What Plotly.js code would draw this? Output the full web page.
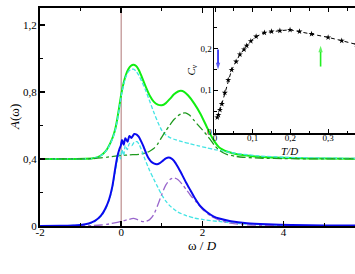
<!DOCTYPE html>
<html>
<head>
<meta charset="utf-8">
<script src="https://cdn.plot.ly/plotly-3.0.1.min.js"></script>
<style>
html,body{margin:0;padding:0;overflow:hidden;background:#fff;}
#wrap{position:relative;width:355px;height:274px;overflow:hidden;}
#main{position:absolute;left:0;top:0;}
#inset{position:absolute;left:160px;top:0;}
</style>
</head>
<body>
<div id="wrap"><div id="main"></div><div id="inset"></div></div>
<script>
// ---- main panel data: A(omega) vs omega/D ----
const wGreen = [-2,-1.2,-0.9,-0.7,-0.55,-0.44,-0.35,-0.27,-0.2,-0.15,-0.1,-0.04,0,0.06,0.12,0.18,0.24,0.3,0.36,0.43,0.5,0.6,0.7,0.8,0.9,1.0,1.1,1.2,1.3,1.4,1.47,1.55,1.65,1.8,1.95,2.1,2.2,2.3,2.4,2.5,2.6,2.8,3.0,3.3,3.7,4.2,5,6.2];
const aGreen = [0.400,0.400,0.401,0.404,0.414,0.432,0.458,0.494,0.535,0.575,0.635,0.725,0.785,0.855,0.905,0.938,0.956,0.962,0.955,0.932,0.893,0.832,0.778,0.742,0.724,0.720,0.733,0.758,0.785,0.802,0.806,0.800,0.778,0.730,0.670,0.595,0.545,0.503,0.472,0.455,0.444,0.431,0.423,0.415,0.409,0.405,0.402,0.401];

const wCyanUp = [-2,-1.2,-0.9,-0.7,-0.55,-0.44,-0.35,-0.27,-0.2,-0.15,-0.1,-0.04,0,0.06,0.12,0.18,0.24,0.3,0.36,0.43,0.5,0.6,0.7,0.8,0.9,1.0,1.1,1.2,1.35,1.5,1.7,1.9,2.1,2.3,2.5,2.7,3.0,3.4,4,5,6.2];
const aCyanUp = [0.400,0.400,0.401,0.404,0.413,0.430,0.455,0.490,0.530,0.568,0.625,0.715,0.775,0.845,0.893,0.922,0.935,0.935,0.925,0.900,0.865,0.810,0.745,0.680,0.620,0.570,0.543,0.527,0.513,0.503,0.490,0.478,0.467,0.456,0.447,0.438,0.428,0.418,0.410,0.405,0.402];

const wGreenDD = [-2,-1,-0.7,-0.5,-0.3,-0.1,0,0.2,0.45,0.6,0.7,0.8,0.9,1.0,1.1,1.2,1.3,1.4,1.5,1.58,1.68,1.8,1.9,2.0,2.1,2.2,2.3,2.4,2.5,2.6,2.8,3.0,3.5,4,5,6.2];
const aGreenDD = [0.400,0.400,0.402,0.406,0.412,0.418,0.420,0.424,0.428,0.436,0.446,0.462,0.490,0.530,0.568,0.603,0.635,0.658,0.672,0.675,0.662,0.628,0.600,0.573,0.545,0.513,0.480,0.455,0.438,0.427,0.416,0.410,0.404,0.402,0.400,0.400];

const wBlue = [-2,-1.5,-1.2,-1,-0.8,-0.65,-0.5,-0.4,-0.3,-0.22,-0.15,-0.1,-0.05,-0.01,0.02,0.06,0.1,0.155,0.2,0.25,0.32,0.38,0.43,0.5,0.55,0.62,0.67,0.74,0.8,0.88,0.95,1.03,1.1,1.17,1.24,1.3,1.4,1.5,1.6,1.7,1.8,1.95,2.1,2.27,2.44,2.7,3.1,3.6,4.2,5,6.2];
const aBlue = [0,0.001,0.003,0.006,0.015,0.030,0.062,0.100,0.158,0.235,0.340,0.410,0.455,0.480,0.513,0.485,0.524,0.502,0.537,0.525,0.549,0.545,0.533,0.500,0.473,0.430,0.405,0.383,0.373,0.368,0.375,0.390,0.403,0.408,0.402,0.388,0.350,0.305,0.258,0.215,0.172,0.118,0.085,0.058,0.043,0.028,0.016,0.010,0.006,0.003,0.002];

const wCyanLo = [-2,-1.5,-1.2,-1,-0.8,-0.65,-0.5,-0.4,-0.3,-0.22,-0.15,-0.1,-0.05,-0.02,0.02,0.06,0.1,0.15,0.2,0.26,0.32,0.39,0.45,0.52,0.59,0.7,0.8,0.9,1.0,1.1,1.2,1.3,1.4,1.6,1.8,2.0,2.4,2.8,3.2,4,5,6.2];
const aCyanLo = [0,0.001,0.003,0.005,0.013,0.027,0.057,0.094,0.150,0.225,0.320,0.385,0.430,0.400,0.455,0.420,0.480,0.455,0.492,0.480,0.500,0.503,0.482,0.440,0.395,0.330,0.280,0.232,0.185,0.148,0.120,0.100,0.083,0.062,0.048,0.039,0.027,0.017,0.010,0.004,0.002,0.001];

const wPurple = [-2,-1,-0.7,-0.5,-0.3,-0.1,0,0.15,0.3,0.4,0.5,0.58,0.7,0.8,0.9,1.0,1.1,1.2,1.3,1.4,1.5,1.6,1.7,1.86,2.0,2.2,2.4,2.7,3.0,3.5,4,5,6.2];
const aPurple = [0,0.001,0.003,0.006,0.012,0.022,0.028,0.037,0.045,0.038,0.028,0.026,0.038,0.068,0.125,0.190,0.245,0.277,0.286,0.276,0.250,0.218,0.185,0.140,0.100,0.060,0.036,0.017,0.008,0.004,0.002,0.001,0];

// main axis ticks
const xTickVals = [-2,0,2,4];
const xTickText = ['-2','0','2','4'];
const xMinorVals = [-1,1,3,5];
const yTickVals = [0,0.4,0.8,1.2];
const yTickText = ['0','0,4','0,8','1,2'];
const yMinorVals = [0.2,0.6,1.0];

// ---- inset data: C_v vs T/D ----
const tInset = [0.006,0.009,0.013,0.018,0.026,0.035,0.044,0.056,0.066,0.077,0.084,0.095,0.109,0.131,0.150,0.172,0.199,0.224,0.256,0.300,0.336,0.375];
const cvInset = [0.035,0.041,0.053,0.067,0.094,0.125,0.149,0.169,0.186,0.198,0.207,0.218,0.229,0.238,0.241,0.243,0.245,0.241,0.235,0.227,0.219,0.210];
const tTickVals = [0,0.1,0.2,0.3];
const tTickText = ['0','0,1','0,2','0,3'];
const tMinorVals = [0.05,0.15,0.25,0.35];
const cTickVals = [0,0.1,0.2];
const cTickText = ['0','0,1','0,2'];
const cMinorVals = [0.05,0.15,0.25];
// arrows (tail -> head) in inset
const blueArrowT = [0.008, 0.008];
const blueArrowC = [0.198, 0.150];
const greenArrowT = [0.280, 0.280];
const greenArrowC = [0.157, 0.207];

const FONT = 'Liberation Serif, Times New Roman, serif';

function line(x, y, color, width, dash) {
  return {x:x, y:y, type:'scatter', mode:'lines', hoverinfo:'skip',
    line:{color:color, width:width, dash:dash||'solid', shape:'spline', smoothing:0.7}};
}
function arrow(x, y, color) {
  return {x:x, y:y, type:'scatter', mode:'lines+markers', hoverinfo:'skip',
    line:{color:color, width:1.6},
    marker:{symbol:'arrow', angleref:'previous', size:[0, 7], color:color, line:{width:0}}};
}

const mainTraces = [
  line(wGreen, aGreen, '#11ee11', 2),
  line(wCyanUp, aCyanUp, '#44e4e4', 1.3, '4px,2px'),
  line(wGreenDD, aGreenDD, '#1f9a1f', 1.3, 'dashdot'),
  line(wCyanLo, aCyanLo, '#44e4e4', 1.3, '4px,2px'),
  line(wPurple, aPurple, '#9966cc', 1.3, 'dashdot'),
  line(wBlue, aBlue, '#0a0aee', 2)
];

const axCommon = {showline:true, linecolor:'#000', mirror:'ticks', ticks:'inside',
  tickcolor:'#000', showgrid:false, zeroline:false, fixedrange:true};

const mainLayout = {
  width:370, height:274,
  margin:{l:40, r:0, t:8, b:48},
  paper_bgcolor:'#fff', plot_bgcolor:'#fff',
  showlegend:false,
  font:{family:FONT, size:11, color:'#000'},
  xaxis:Object.assign({}, axCommon, {range:[-2.002, 6.13], linewidth:2, ticklen:5, tickwidth:1.5,
    tickmode:'array', tickvals:xTickVals, ticktext:xTickText, ticklabelstandoff:-5,
    minor:{tickmode:'array', tickvals:xMinorVals, ticklen:3, ticks:'inside', tickcolor:'#000', tickwidth:1},
    tickfont:{family:FONT, size:11}}),
  yaxis:Object.assign({}, axCommon, {range:[0, 1.3], linewidth:2, ticklen:5, tickwidth:1.5,
    tickmode:'array', tickvals:yTickVals, ticktext:yTickText, ticklabelstandoff:-1,
    minor:{tickmode:'array', tickvals:yMinorVals, ticklen:3, ticks:'inside', tickcolor:'#000', tickwidth:1},
    tickfont:{family:FONT, size:11}}),
  shapes:[{type:'line', xref:'x', yref:'paper', x0:0, x1:0, y0:0, y1:1,
    line:{color:'#caa4a4', width:1.5}, layer:'below'}],
  annotations:[
    {xref:'paper', yref:'paper', x:-0.079, y:0.5, text:'<i>A</i>(ω)', showarrow:false,
     textangle:-90, font:{family:FONT, size:13}, xanchor:'center', yanchor:'middle'},
    {xref:'x', yref:'paper', x:2, y:-0.09, text:'ω / <i>D</i>', showarrow:false,
     font:{family:FONT, size:13}, xanchor:'center', yanchor:'middle'}
  ]
};

const insetTraces = [
  {x:tInset, y:cvInset, type:'scatter', mode:'lines+markers', hoverinfo:'skip',
   line:{color:'#000', width:1, dash:'4px,3px'},
   marker:{symbol:'star', size:4.5, color:'#000'}},
  arrow(blueArrowT, blueArrowC, '#1a1aee'),
  arrow(greenArrowT, greenArrowC, '#22ee22')
];

const insetLayout = {
  width:210, height:173,
  margin:{l:54, r:0, t:8, b:40},
  paper_bgcolor:'rgba(0,0,0,0)', plot_bgcolor:'#fff',
  showlegend:false,
  font:{family:FONT, size:9, color:'#000'},
  xaxis:Object.assign({}, axCommon, {range:[-0.0027, 0.411], linewidth:1.5, ticklen:4, tickwidth:1,
    tickmode:'array', tickvals:tTickVals, ticktext:tTickText, ticklabelstandoff:-4,
    minor:{tickmode:'array', tickvals:tMinorVals, ticklen:2.5, ticks:'inside', tickcolor:'#000', tickwidth:1},
    tickfont:{family:FONT, size:9}}),
  yaxis:Object.assign({}, axCommon, {range:[-0.0024, 0.2974], linewidth:1.5, ticklen:4, tickwidth:1,
    tickmode:'array', tickvals:cTickVals, ticktext:cTickText, ticklabelstandoff:-1,
    minor:{tickmode:'array', tickvals:cMinorVals, ticklen:2.5, ticks:'inside', tickcolor:'#000', tickwidth:1},
    tickfont:{family:FONT, size:9}}),
  annotations:[
    {xref:'paper', yref:'paper', x:-0.147, y:0.5, text:'<i>C</i><sub><i>v</i></sub>', showarrow:false,
     textangle:-90, font:{family:FONT, size:11}, xanchor:'center', yanchor:'middle'},
    {xref:'paper', yref:'paper', x:0.487, y:-0.14, text:'<i>T/D</i>', showarrow:false,
     font:{family:FONT, size:11}, xanchor:'center', yanchor:'middle'}
  ]
};

const cfg = {displayModeBar:false, staticPlot:true};
Plotly.newPlot('main', mainTraces, mainLayout, cfg);
Plotly.newPlot('inset', insetTraces, insetLayout, cfg);
</script>
</body>
</html>
